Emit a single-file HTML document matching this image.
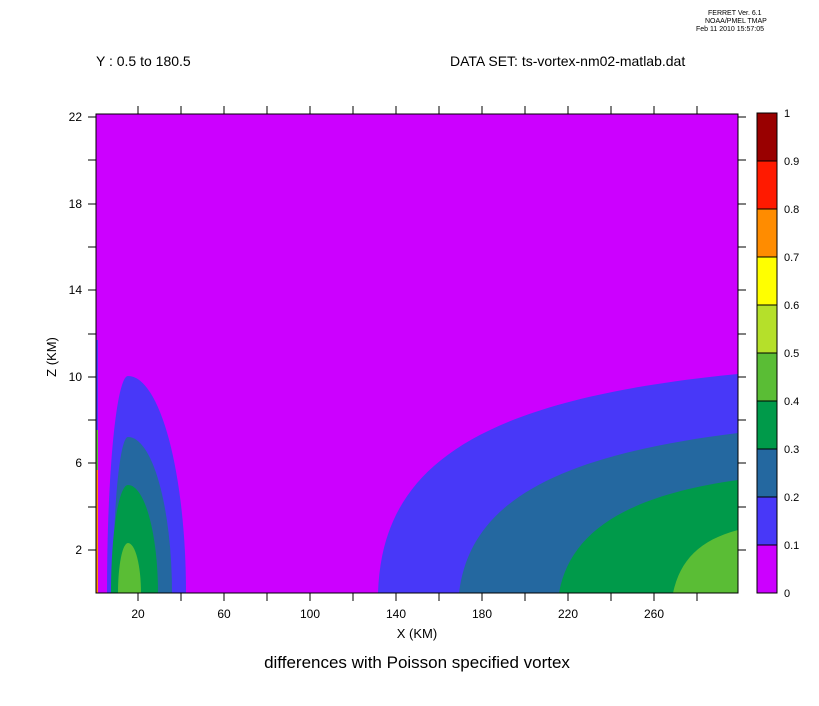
<!DOCTYPE html>
<html><head><style>body{margin:0;background:#fff}svg{display:block}text{font-family:"Liberation Sans",sans-serif;fill:#000}</style></head>
<body>
<svg width="819" height="706" viewBox="0 0 819 706">
<defs><clipPath id="c"><rect x="96" y="114" width="642" height="479"/></clipPath></defs>
<text x="708" y="15" font-size="7">FERRET Ver. 6.1</text>
<text x="705" y="23" font-size="7">NOAA/PMEL TMAP</text>
<text x="696" y="31" font-size="7">Feb 11 2010 15:57:05</text>
<text x="96" y="66" font-size="14">Y : 0.5 to 180.5</text>
<text x="450" y="66" font-size="14">DATA SET: ts-vortex-nm02-matlab.dat</text>
<g clip-path="url(#c)">
<rect x="96" y="114" width="642" height="479" fill="#cc00ff"/>
<path d="M107,593 A21,217 0 0 1 128,376 A58,217 0 0 1 186,593Z" fill="#4838f8"/>
<path d="M113,593 A15,156 0 0 1 128,437 A44,156 0 0 1 172,593Z" fill="#2468a0"/>
<path d="M111,593 A17,108 0 0 1 128,485 A30,108 0 0 1 158,593Z" fill="#009a4a"/>
<path d="M118,593 A10,50 0 0 1 128,543 A13,50 0 0 1 141,593Z" fill="#5abd35"/>
<rect x="96" y="340" width="2" height="253" fill="#4838f8"/>
<rect x="96" y="430" width="2" height="163" fill="#5abd35"/>
<rect x="96" y="470" width="2" height="123" fill="#ff8c00"/>
<path d="M378,593 C382,470 470,400 738,374 L738,593Z" fill="#4838f8"/>
<path d="M459,593 C470,500 560,455 738,433 L738,593Z" fill="#2468a0"/>
<path d="M559,593 C570,530 630,495 738,480 L738,593Z" fill="#009a4a"/>
<path d="M673,593 C680,560 700,540 738,530 L738,593Z" fill="#5abd35"/>
</g>
<rect x="96" y="114" width="642" height="479" fill="none" stroke="#000" stroke-width="1"/>
<g stroke="#000" stroke-width="1">
<line x1="138" y1="593" x2="138" y2="601"/><line x1="181" y1="593" x2="181" y2="601"/><line x1="224" y1="593" x2="224" y2="601"/><line x1="267" y1="593" x2="267" y2="601"/><line x1="310" y1="593" x2="310" y2="601"/><line x1="353" y1="593" x2="353" y2="601"/><line x1="396" y1="593" x2="396" y2="601"/><line x1="439" y1="593" x2="439" y2="601"/><line x1="482" y1="593" x2="482" y2="601"/><line x1="525" y1="593" x2="525" y2="601"/><line x1="568" y1="593" x2="568" y2="601"/><line x1="611" y1="593" x2="611" y2="601"/><line x1="654" y1="593" x2="654" y2="601"/><line x1="697" y1="593" x2="697" y2="601"/>
<line x1="138" y1="114" x2="138" y2="106"/><line x1="181" y1="114" x2="181" y2="106"/><line x1="224" y1="114" x2="224" y2="106"/><line x1="267" y1="114" x2="267" y2="106"/><line x1="310" y1="114" x2="310" y2="106"/><line x1="353" y1="114" x2="353" y2="106"/><line x1="396" y1="114" x2="396" y2="106"/><line x1="439" y1="114" x2="439" y2="106"/><line x1="482" y1="114" x2="482" y2="106"/><line x1="525" y1="114" x2="525" y2="106"/><line x1="568" y1="114" x2="568" y2="106"/><line x1="611" y1="114" x2="611" y2="106"/><line x1="654" y1="114" x2="654" y2="106"/><line x1="697" y1="114" x2="697" y2="106"/>
<path d="M88,550H96M88,507H96M88,463H96M88,420H96M88,377H96M88,334H96M88,290H96M88,247H96M88,204H96M88,160H96M88,117H96"/>
<path d="M738,550H746M738,507H746M738,463H746M738,420H746M738,377H746M738,334H746M738,290H746M738,247H746M738,204H746M738,160H746M738,117H746"/>
</g>
<g font-size="12" text-anchor="end">
<text x="82" y="554">2</text><text x="82" y="467">6</text><text x="82" y="381">10</text><text x="82" y="294">14</text><text x="82" y="208">18</text><text x="82" y="121">22</text>
</g>
<g font-size="12" text-anchor="middle">
<text x="138" y="618">20</text><text x="224" y="618">60</text><text x="310" y="618">100</text><text x="396" y="618">140</text><text x="482" y="618">180</text><text x="568" y="618">220</text><text x="654" y="618">260</text>
<text x="417" y="638" font-size="13">X (KM)</text>
<text x="417" y="668" font-size="17">differences with Poisson specified vortex</text>
</g>
<text transform="translate(56,357) rotate(-90)" font-size="13" text-anchor="middle">Z (KM)</text>
<g stroke="#000" stroke-width="1">
<rect x="757" y="113" width="20" height="48" fill="#990000"/>
<rect x="757" y="161" width="20" height="48" fill="#ff1a00"/>
<rect x="757" y="209" width="20" height="48" fill="#ff8c00"/>
<rect x="757" y="257" width="20" height="48" fill="#ffff00"/>
<rect x="757" y="305" width="20" height="48" fill="#b5e02a"/>
<rect x="757" y="353" width="20" height="48" fill="#5abd35"/>
<rect x="757" y="401" width="20" height="48" fill="#009a4a"/>
<rect x="757" y="449" width="20" height="48" fill="#2468a0"/>
<rect x="757" y="497" width="20" height="48" fill="#4838f8"/>
<rect x="757" y="545" width="20" height="48" fill="#cc00ff"/>
</g>
<g font-size="11">
<text x="784" y="117">1</text><text x="784" y="165">0.9</text><text x="784" y="213">0.8</text><text x="784" y="261">0.7</text><text x="784" y="309">0.6</text><text x="784" y="357">0.5</text><text x="784" y="405">0.4</text><text x="784" y="453">0.3</text><text x="784" y="501">0.2</text><text x="784" y="549">0.1</text><text x="784" y="597">0</text>
</g>
</svg>
</body></html>
